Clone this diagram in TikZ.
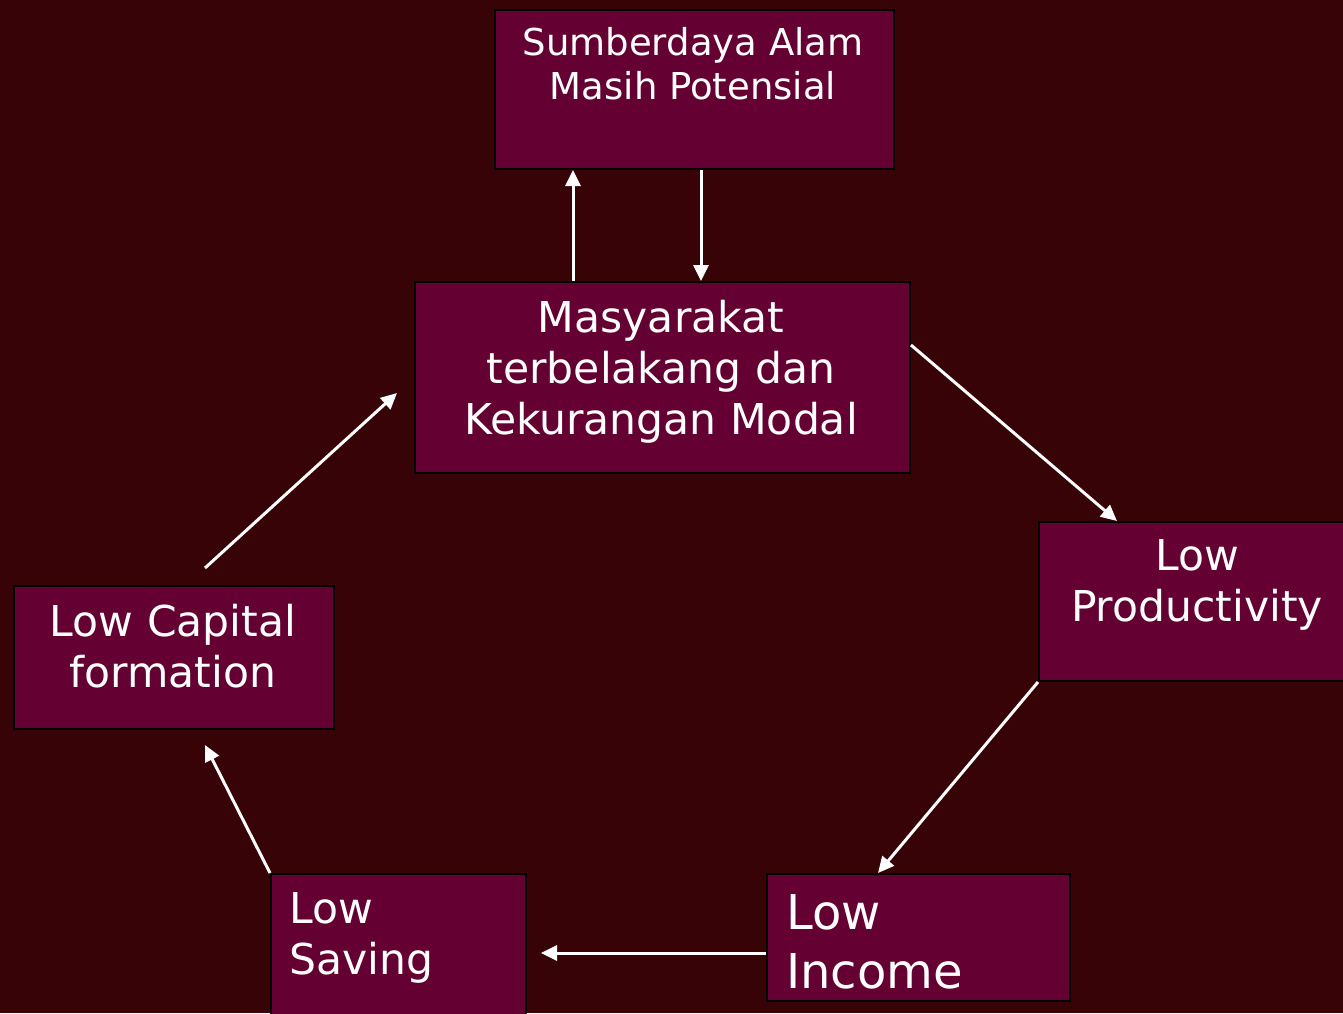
\documentclass[tikz,border=0pt]{standalone}
\usepackage{fontspec}
\setmainfont{DejaVu Sans}
\usetikzlibrary{arrows.meta}
\definecolor{bg}{HTML}{380307}
\definecolor{boxc}{HTML}{640032}
\begin{document}
\begin{tikzpicture}[x=1pt,y=-1pt,
  box/.style={draw=black,line width=2pt,fill=boxc,inner sep=0pt,anchor=north west},
  lbl/.style={text=white,inner sep=0pt,align=center,anchor=north},
  lbll/.style={text=white,inner sep=0pt,align=left,anchor=north west},
  fa/.style={font=\fontsize{37}{44}\selectfont},
  fb/.style={font=\fontsize{42.5}{51}\selectfont},
  fc/.style={font=\fontsize{48}{59}\selectfont},
  arr/.style={draw=white,line width=3pt,-{Triangle[length=16pt,width=15pt]}}]
\path[fill=bg] (0,0) rectangle (1343,1013);
\clip (0,0) rectangle (1343,1013);
% boxes
\node[box,minimum width=399pt,minimum height=159pt] (top) at (494,9) {};
\node[box,minimum width=495pt,minimum height=191pt] (mid) at (414,281) {};
\node[box,minimum width=318pt,minimum height=159pt] (prod) at (1038,521) {};
\node[box,minimum width=320pt,minimum height=143pt] (cap) at (13,585) {};
\node[box,minimum width=255pt,minimum height=160pt] (sav) at (270,873) {};
\node[box,minimum width=303pt,minimum height=127pt] (inc) at (766,873) {};
% labels
\node[lbl,fa] (ttop) at (693,27) {Sumberdaya Alam\\Masih Potensial};
\node[lbl,fb] (tmid) at (661,300) {Masyarakat\\terbelakang dan\\Kekurangan Modal};
\node[lbl,fb] (tprod) at (1197,539) {Low\\Productivity};
\node[lbl,fb] (tcap) at (173,604) {Low Capital\\formation};
\node[lbll,fb] (tsav) at (289,892) {Low\\Saving};
\node[lbll,fc] (tinc) at (786,894) {Low\\Income};
% helper coordinates
\coordinate (xu) at (573,0);
\coordinate (xd) at (701,0);
\coordinate (y3) at (0,345);
\coordinate (x3) at (1117,0);
\coordinate (x4) at (878,0);
\coordinate (y5) at (0,953);
\coordinate (e5) at (541,953);
\coordinate (e6) at (205,745);
\coordinate (s7) at (205,568);
\coordinate (e7) at (397,393);
% connectors
\draw[arr] (mid.north -| xu) -- (top.south -| xu);
\draw[arr] (top.south -| xd) -- (mid.north -| xd);
\draw[arr] (mid.east |- y3) -- (prod.north -| x3);
\draw[arr] (prod.south west) -- (inc.north -| x4);
\draw[arr] (inc.west |- y5) -- (e5);
\draw[arr] (sav.north west) -- (e6);
\draw[arr] (s7) -- (e7);
\end{tikzpicture}
\end{document}
